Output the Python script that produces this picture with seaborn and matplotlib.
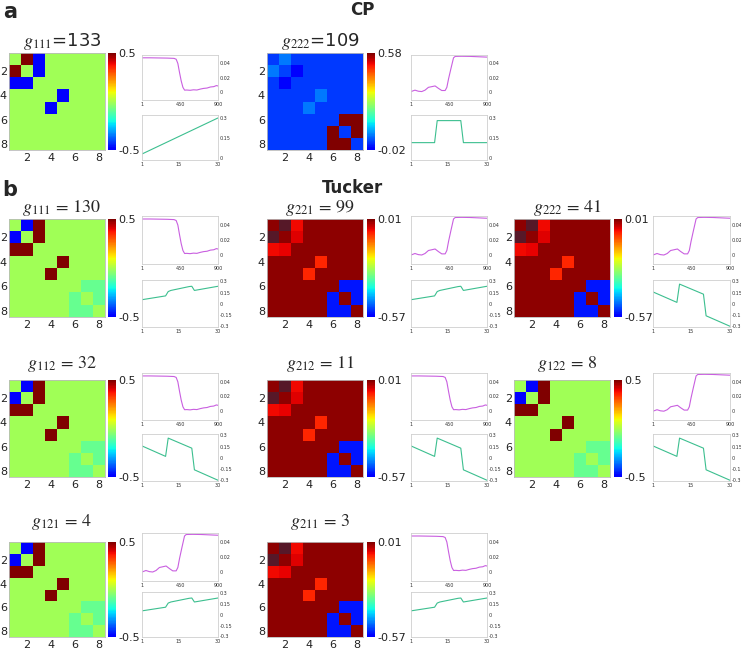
import numpy as np
import matplotlib
matplotlib.use("Agg")
import matplotlib.pyplot as plt
from matplotlib.colors import ListedColormap
import seaborn as sns

sns.set_style("white")
plt.rcParams["font.family"] = ["DejaVu Sans"]
plt.rcParams["mathtext.fontset"] = "stix"

# ---------------- data ----------------
# 8x8 core-slice matrices
CP_G111 = [
    [-0.01, 0.5, -0.5, -0.01, -0.01, -0.01, -0.01, -0.01],
    [0.5, -0.01, -0.5, -0.01, -0.01, -0.01, -0.01, -0.01],
    [-0.5, -0.5, -0.01, -0.01, -0.01, -0.01, -0.01, -0.01],
    [-0.01, -0.01, -0.01, -0.01, -0.5, -0.01, -0.01, -0.01],
    [-0.01, -0.01, -0.01, -0.5, -0.01, -0.01, -0.01, -0.01],
    [-0.01, -0.01, -0.01, -0.01, -0.01, -0.01, -0.01, -0.01],
    [-0.01, -0.01, -0.01, -0.01, -0.01, -0.01, -0.01, -0.01],
    [-0.01, -0.01, -0.01, -0.01, -0.01, -0.01, -0.01, -0.01],
]
CP_G222 = [
    [0.03, 0.07, 0.03, 0.03, 0.03, 0.03, 0.03, 0.03],
    [0.07, 0.035, -0.01, 0.03, 0.03, 0.03, 0.03, 0.03],
    [0.03, -0.01, 0.03, 0.03, 0.03, 0.03, 0.03, 0.03],
    [0.03, 0.03, 0.03, 0.03, 0.07, 0.03, 0.03, 0.03],
    [0.03, 0.03, 0.03, 0.07, 0.03, 0.03, 0.03, 0.03],
    [0.03, 0.03, 0.03, 0.03, 0.03, 0.03, 0.58, 0.58],
    [0.03, 0.03, 0.03, 0.03, 0.03, 0.58, 0.03, 0.58],
    [0.03, 0.03, 0.03, 0.03, 0.03, 0.58, 0.58, 0.03],
]
TUCKER_GREEN = [
    [-0.01, -0.5, 0.5, -0.01, -0.01, -0.01, -0.01, -0.01],
    [-0.5, -0.01, 0.5, -0.01, -0.01, -0.01, -0.01, -0.01],
    [0.5, 0.5, -0.01, -0.01, -0.01, -0.01, -0.01, -0.01],
    [-0.01, -0.01, -0.01, -0.01, 0.5, -0.01, -0.01, -0.01],
    [-0.01, -0.01, -0.01, 0.5, -0.01, -0.01, -0.01, -0.01],
    [-0.01, -0.01, -0.01, -0.01, -0.01, -0.01, -0.09, -0.09],
    [-0.01, -0.01, -0.01, -0.01, -0.01, -0.09, -0.01, -0.09],
    [-0.01, -0.01, -0.01, -0.01, -0.01, -0.09, -0.09, -0.01],
]
TUCKER_RED = [
    [0.0, 0.05, -0.055, 0.0, 0.0, 0.0, 0.0, 0.0],
    [0.05, 0.0, -0.045, 0.0, 0.0, 0.0, 0.0, 0.0],
    [-0.055, -0.05, 0.0, 0.0, 0.0, 0.0, 0.0, 0.0],
    [0.0, 0.0, 0.0, 0.0, -0.075, 0.0, 0.0, 0.0],
    [0.0, 0.0, 0.0, -0.075, 0.0, 0.0, 0.0, 0.0],
    [0.0, 0.0, 0.0, 0.0, 0.0, 0.0, -0.545, -0.545],
    [0.0, 0.0, 0.0, 0.0, 0.0, -0.545, 0.0, -0.545],
    [0.0, 0.0, 0.0, 0.0, 0.0, -0.545, -0.545, 0.0],
]

# top line profiles (x = 1..900)
DEC_X = [1, 100, 200, 300, 380, 405, 425, 445, 465, 485, 505, 530, 570, 610, 650, 690, 730, 770, 810, 850, 880, 900]
DEC_Y = [0.048, 0.048, 0.0478, 0.0476, 0.0472, 0.046, 0.04, 0.027, 0.015, 0.006, 0.002, 0.0022, 0.0018, 0.0025,
         0.0022, 0.0035, 0.0045, 0.005, 0.0065, 0.007, 0.0085, 0.008]
INC_X = [1, 48, 88, 128, 167, 207, 247, 286, 326, 365, 405, 425, 445, 472, 504, 524, 600, 700, 800, 900]
INC_Y = [0.0, 0.002, 0.0005, 0.0, 0.002, 0.006, 0.007, 0.008, 0.0045, 0.0015, 0.0015, 0.006, 0.018, 0.032,
         0.048, 0.0500, 0.0502, 0.0500, 0.0495, 0.049]

# bottom line profiles (x = 1..30)
LIN_X = [1, 30]
LIN_Y = [0.03, 0.3]
STEP_X = [1, 10, 11, 20, 21, 30]
STEP_Y = [0.115, 0.115, 0.28, 0.28, 0.115, 0.115]
RISE_X = [1, 10, 11, 12, 19, 20, 21, 30]
RISE_Y = [0.056, 0.107, 0.165, 0.18, 0.232, 0.236, 0.18, 0.236]
SAW_X = [1, 10, 11, 20, 21, 30]
SAW_Y = [0.16, 0.02, 0.265, 0.13, -0.16, -0.3]

TITLES = [r"$g_{111}$=133", r"$g_{222}$=109",
          r"$g_{111}\,=\,130$", r"$g_{221}\,=\,99$", r"$g_{222}\,=\,41$",
          r"$g_{112}\,=\,32$", r"$g_{212}\,=\,11$", r"$g_{122}\,=\,8$",
          r"$g_{121}\,=\,4$", r"$g_{211}\,=\,3$"]

# ---------------- styling / layout ----------------
W, H = 741, 649
fig = plt.figure(figsize=(W / 100, H / 100), dpi=100)

base = plt.cm.jet(np.linspace(0.11, 1.0, 256))
def make_cmap(over=None):
    cm = ListedColormap(base)
    if over is not None:
        cm.set_over(over)
    return cm

MAGENTA = "#c95fe0"
GREEN = "#3cbf8f"

def rect(x0, y0, x1, y1):
    return [x0 / W, 1 - y1 / H, (x1 - x0) / W, (y1 - y0) / H]

COLS = {0: (9, 105, 108, 116, 142, 218),
        1: (267, 363, 367, 375, 411, 487),
        2: (514, 610, 614, 622, 653, 730)}
ROWS = {0: (53, 150, 42, 55, 100, 115, 160),
        1: (219, 317, 208, 216, 264, 280, 327),
        2: (380, 477, 364, 373, 420, 434, 481),
        3: (542, 637, 522, 533, 581, 592, 637)}

# (row, col, title index, matrix, vmin, vmax, labels, top, bottom kind)
panels = [
    (0, 0, 0, CP_G111, -0.5, 0.5, ("0.5", "-0.5"), "dec", "lin"),
    (0, 1, 1, CP_G222, -0.02, 0.58, ("0.58", "-0.02"), "inc", "step"),
    (1, 0, 2, TUCKER_GREEN, -0.5, 0.5, ("0.5", "-0.5"), "dec", "rise"),
    (1, 1, 3, TUCKER_RED, -0.57, 0.01, ("0.01", "-0.57"), "inc", "rise"),
    (1, 2, 4, TUCKER_RED, -0.57, 0.01, ("0.01", "-0.57"), "inc", "saw"),
    (2, 0, 5, TUCKER_GREEN, -0.5, 0.5, ("0.5", "-0.5"), "dec", "saw"),
    (2, 1, 6, TUCKER_RED, -0.57, 0.01, ("0.01", "-0.57"), "dec", "saw"),
    (2, 2, 7, TUCKER_GREEN, -0.5, 0.5, ("0.5", "-0.5"), "inc", "saw"),
    (3, 0, 8, TUCKER_GREEN, -0.5, 0.5, ("0.5", "-0.5"), "inc", "rise"),
    (3, 1, 9, TUCKER_RED, -0.57, 0.01, ("0.01", "-0.57"), "dec", "rise"),
]

TOPS = {"dec": (DEC_X, DEC_Y), "inc": (INC_X, INC_Y)}
BOTS = {"lin": (LIN_X, LIN_Y), "step": (STEP_X, STEP_Y), "rise": (RISE_X, RISE_Y), "saw": (SAW_X, SAW_Y)}

def style_line_ax(ax):
    for s in ax.spines.values():
        s.set_color("#cfcfcf")
        s.set_linewidth(0.6)
    ax.yaxis.tick_right()
    ax.tick_params(axis="both", length=0, labelsize=3.5, pad=1.2, colors="#333333")
    ax.set_xlabel("")
    ax.set_ylabel("")

for (r, c, ti, mat, vmin, vmax, clabels, top, bot) in panels:
    hx0, hx1, cx0, cx1, lx0, lx1 = COLS[c]
    hy0, hy1, ty, t0, t1, b0, b1 = ROWS[r]
    ax = fig.add_axes(rect(hx0, hy0, hx1, hy1))
    cax = fig.add_axes(rect(cx0, hy0, cx1, hy1))
    over = "#561828" if vmax == 0.01 else None
    sns.heatmap(np.array(mat), ax=ax, cbar_ax=cax, cmap=make_cmap(over), vmin=vmin, vmax=vmax,
                xticklabels=False, yticklabels=False, square=False)
    ax.set_xticks([1.5, 3.5, 5.5, 7.5])
    ax.set_xticklabels(["2", "4", "6", "8"])
    ax.set_yticks([1.5, 3.5, 5.5, 7.5])
    ax.set_yticklabels(["2", "4", "6", "8"], rotation=0)
    ax.tick_params(axis="y", length=0, labelsize=8, pad=1.5, colors="#222222")
    ax.tick_params(axis="x", length=0, labelsize=8, pad=2.5, colors="#222222")
    for s in ax.spines.values():
        s.set_visible(True)
        s.set_color("#bbbbbb")
        s.set_linewidth(0.6)
    cbar = ax.collections[0].colorbar
    cbar.set_ticks([vmin, vmax])
    cbar.set_ticklabels([clabels[1], clabels[0]])
    cbar.outline.set_visible(False)
    cax.tick_params(length=0, labelsize=8, pad=1.5, colors="#222222")

    fig.text((hx0 + hx1) / 2 / W + 5 / W, 1 - ty / H, TITLES[ti], ha="center", va="center", fontsize=13)

    # top line plot
    axt = fig.add_axes(rect(lx0, t0, lx1, t1))
    tx, tyv = TOPS[top]
    sns.lineplot(x=tx, y=tyv, ax=axt, color=MAGENTA, linewidth=0.8)
    axt.set_xlim(1, 900)
    axt.set_ylim(-0.012, 0.052)
    axt.set_xticks([1, 450, 900])
    axt.set_xticklabels(["1", "450", "900"])
    axt.set_yticks([0, 0.02, 0.04])
    axt.set_yticklabels(["0", "0.02", "0.04"])
    style_line_ax(axt)

    # bottom line plot
    axb = fig.add_axes(rect(lx0, b0, lx1, b1))
    bx, byv = BOTS[bot]
    sns.lineplot(x=bx, y=byv, ax=axb, color=GREEN, linewidth=0.8)
    axb.set_xlim(1, 30)
    axb.set_xticks([1, 15, 30])
    axb.set_xticklabels(["1", "15", "30"])
    if bot in ("lin", "step"):
        axb.set_ylim(-0.015, 0.322)
        axb.set_yticks([0, 0.15, 0.3])
        axb.set_yticklabels(["0", "0.15", "0.3"])
    else:
        axb.set_ylim(-0.31, 0.32)
        axb.set_yticks([-0.3, -0.15, 0, 0.15, 0.3])
        axb.set_yticklabels(["-0.3", "-0.15", "0", "0.15", "0.3"])
    style_line_ax(axb)

fig.text(10 / W, 1 - 12 / H, "a", fontsize=15, fontweight="bold", ha="center", va="center")
fig.text(10 / W, 1 - 190 / H, "b", fontsize=15, fontweight="bold", ha="center", va="center")
fig.text(362 / W, 1 - 10 / H, "CP", fontsize=12, fontweight="bold", ha="center", va="center")
fig.text(352 / W, 1 - 188 / H, "Tucker", fontsize=12, fontweight="bold", ha="center", va="center")

fig.savefig("out.png", dpi=100)
